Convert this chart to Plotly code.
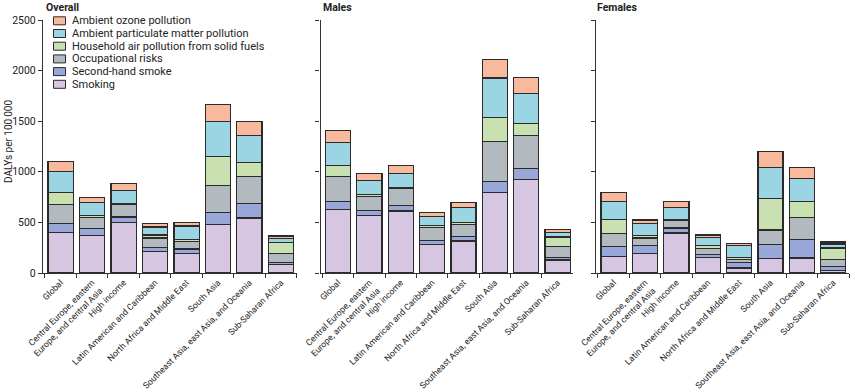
import plotly.graph_objects as go

regions = ["Global", "Central Europe, eastern<br>Europe, and central Asia", "High income",
           "Latin American and Caribbean", "North Africa and Middle East", "South Asia",
           "Southeast Asia, east Asia, and Oceania", "Sub-Saharan Africa"]

risk_names = ["Smoking", "Second-hand smoke", "Occupational risks",
              "Household air pollution from solid fuels",
              "Ambient particulate matter pollution", "Ambient ozone pollution"]

# Overall
overall_smoking = [398, 372, 503, 210, 191, 477, 543, 86]
overall_shs = [92, 69, 50, 40, 46, 122, 144, 17]
overall_occ = [188, 108, 125, 95, 75, 269, 270, 89]
overall_household = [118, 17, 6, 30, 20, 280, 138, 107]
overall_pm = [207, 131, 128, 79, 132, 349, 267, 44]
overall_ozone = [99, 46, 69, 33, 36, 167, 135, 22]

# Males
males_smoking = [628, 566, 612, 283, 316, 799, 924, 128]
males_shs = [76, 52, 56, 39, 43, 102, 109, 27]
males_occ = [250, 135, 171, 125, 124, 395, 322, 105]
males_household = [108, 20, 6, 23, 14, 240, 122, 95]
males_pm = [231, 141, 142, 92, 148, 391, 296, 46]
males_ozone = [115, 69, 79, 37, 52, 185, 161, 27]

# Females
females_smoking = [164, 191, 395, 155, 49, 141, 148, 26]
females_shs = [99, 82, 49, 26, 56, 142, 187, 36]
females_occ = [128, 72, 76, 62, 30, 141, 214, 73]
females_household = [135, 27, 6, 30, 20, 313, 158, 112]
females_pm = [184, 118, 119, 79, 115, 306, 227, 39]
females_ozone = [83, 33, 62, 23, 23, 154, 109, 20]

panel_titles = ["Overall", "Males", "Females"]
y_ticks = [0, 500, 1000, 1500, 2000, 2500]

panels = [
    [overall_smoking, overall_shs, overall_occ, overall_household, overall_pm, overall_ozone],
    [males_smoking, males_shs, males_occ, males_household, males_pm, males_ozone],
    [females_smoking, females_shs, females_occ, females_household, females_pm, females_ozone],
]

colors = ["#d6c6e2", "#99a7d8", "#b3babf", "#c9e1b1", "#9bd5e4", "#f9b99c"]
edge = "#2b2b2b"
FONT = "Roboto, Arial, sans-serif"

W, H = 850, 391
ML, MR, MT, MB = 43, 1, 20, 118
PW, PH = W - ML - MR, H - MT - MB


def px(x):
    return (x - ML) / PW


def py(y):
    return (H - MB - y) / PH


domains = [(43, 296.7), (320.5, 573.3), (596, 849)]

fig = go.Figure()
for p, series in enumerate(panels):
    xa = "x" if p == 0 else f"x{p+1}"
    ya = "y" if p == 0 else f"y{p+1}"
    for i, vals in enumerate(series):
        fig.add_trace(go.Bar(
            x=regions, y=vals, name=risk_names[i], xaxis=xa, yaxis=ya,
            marker=dict(color=colors[i], line=dict(color=edge, width=1.2)),
            showlegend=False,
        ))

layout = dict(
    width=W, height=H, barmode="stack", bargap=0.2,
    margin=dict(l=ML, r=MR, t=MT, b=MB, autoexpand=False),
    paper_bgcolor="white", plot_bgcolor="white",
    font=dict(family=FONT, size=10, color="#222"),
)
for p in range(3):
    suffix = "" if p == 0 else str(p + 1)
    d0, d1 = domains[p]
    layout["xaxis" + suffix] = dict(
        domain=[px(d0), px(d1)], range=[-0.56, 7.5], anchor="y" + suffix,
        tickangle=-45, tickson="boundaries", ticks="outside", ticklen=4,
        tickcolor="#333", tickwidth=1.2,
        showline=True, linecolor="#333", linewidth=1.3, showgrid=False,
        tickfont=dict(family=FONT, size=8.7, color="#222"), automargin=False,
    )
    layout["yaxis" + suffix] = dict(
        domain=[0, 1], range=[0, 2500], anchor="x" + suffix,
        tickvals=y_ticks, ticks="outside", ticklen=4, tickcolor="#333", tickwidth=1.2,
        showline=True, linecolor="#333", linewidth=1.3, showgrid=False, zeroline=False,
        showticklabels=(p == 0), tickfont=dict(family=FONT, size=10.5, color="#222"),
        automargin=False,
    )
fig.update_layout(**layout)

annotations = []
shapes = []
# panel titles
title_x = [45, 322, 596]
for t, xx in zip(panel_titles, title_x):
    annotations.append(dict(text="<b>" + t + "</b>", x=px(xx), y=py(0), xref="paper", yref="paper",
                            xanchor="left", yanchor="top", showarrow=False, borderpad=0,
                            font=dict(family=FONT, size=10.5, color="#222")))
# y title
annotations.append(dict(text="DALYs per 100\u2009000", x=px(8), y=py(142), xref="paper", yref="paper",
                        textangle=-90, xanchor="center", yanchor="middle", showarrow=False,
                        font=dict(family=FONT, size=10, color="#222")))
# legend (top entry = ozone)
for k, i in enumerate(reversed(range(6))):
    yc = 20.8 + k * 12.7
    shapes.append(dict(type="rect", xref="paper", yref="paper",
                       x0=px(53.5), x1=px(65.5), y0=py(yc + 4), y1=py(yc - 4),
                       fillcolor=colors[i], line=dict(color=edge, width=1)))
    annotations.append(dict(text=risk_names[i], x=px(69.5), y=py(yc), xref="paper", yref="paper",
                            xanchor="left", yanchor="middle", showarrow=False,
                            font=dict(family=FONT, size=11, color="#222")))
fig.update_layout(annotations=annotations, shapes=shapes)

fig.write_html("out.html", config={"displayModeBar": False},
               post_script="document.body.style.margin='0';document.body.style.overflow='hidden';")
